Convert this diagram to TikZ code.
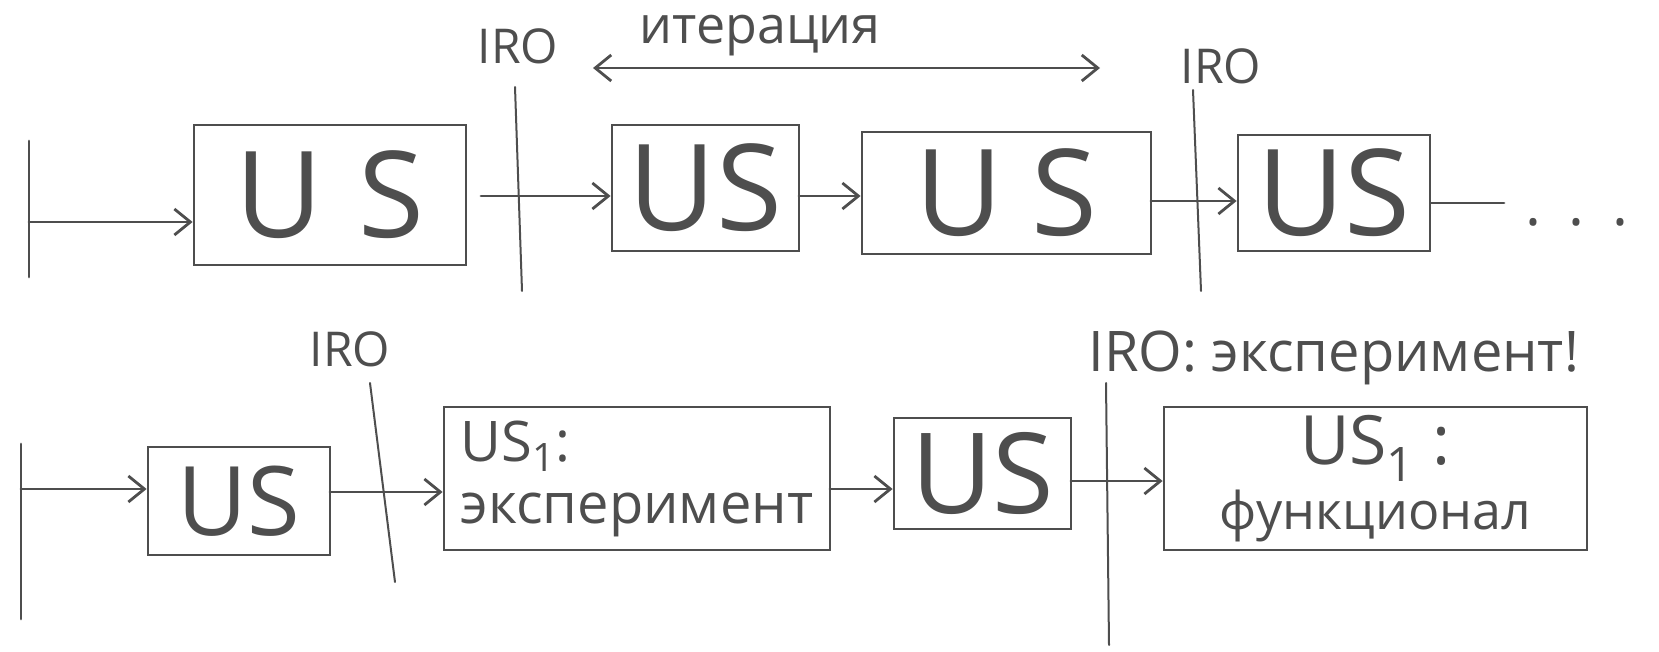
\documentclass[tikz,border=0pt]{standalone}
\usepackage{fontspec}
\setmainfont{Open Sans}
\usetikzlibrary{arrows.meta}
\definecolor{pencil}{RGB}{78,78,78}
\begin{document}
\begin{tikzpicture}[x=0.5pt,y=-0.5pt,
  pen/.style={draw=pencil, line width=1.4pt, line cap=round},
  box/.style={pen, rectangle, inner sep=0pt, text=pencil},
  arr/.style={pen, -{Straight Barb[length=8pt,width=13pt,line width=1.4pt]}},
  arrboth/.style={pen, {Straight Barb[length=8pt,width=13pt,line width=1.4pt]}-{Straight Barb[length=8pt,width=13pt,line width=1.4pt]}},
  lbl/.style={text=pencil, inner sep=0pt},
  big/.style={font=\fontsize{60}{60}\selectfont},
  mid/.style={font=\fontsize{48}{48}\selectfont}]
\useasboundingbox (0,0) rectangle (1659,652);
% ---------- top row ----------
\coordinate (t0a) at (29,141);
\coordinate (t0b) at (29,277);
\draw[pen] (t0a) -- (t0b);
\node[box, big, minimum width=136pt, minimum height=70pt] (b1) at (330,195) {U\hspace{18pt}S};
\node[box, big, minimum width=93.5pt, minimum height=63pt] (b2) at (705.5,188) {US};
\node[box, big, minimum width=144.5pt, minimum height=61pt] (b3) at (1006.5,193) {U\hspace{14pt}S};
\node[box, big, minimum width=96pt, minimum height=58pt] (b4) at (1334,193) {US};
\coordinate (s1) at (29,222);
\draw[arr] (s1) -- (s1 -| b1.west);
\coordinate (a12) at (481,196);
\draw[arr] (a12) -- (a12 -| b2.west);
\coordinate (a23) at (799,196);
\draw[arr] (a23) -- (a23 -| b3.west);
\coordinate (a34) at (1151,201);
\draw[arr] (a34) -- (a34 -| b4.west);
\coordinate (tend) at (1504,203);
\draw[pen] (tend -| b4.east) -- (tend);
\node[lbl, font=\fontsize{30}{30}\selectfont] (dots) at (1577,222) {.\hspace{14pt}.\hspace{14pt}.};
% IRO lines top
\coordinate (i1a) at (515,87);
\coordinate (i1b) at (522,291);
\draw[pen, line width=1pt] (i1a) -- (i1b);
\node[lbl, font=\fontsize{24}{24}\selectfont] (iro1) at (518,46) {IRO};
\coordinate (i2a) at (1193,90);
\coordinate (i2b) at (1201,291);
\draw[pen, line width=1pt] (i2a) -- (i2b);
\node[lbl, font=\fontsize{24}{24}\selectfont] (iro2) at (1221,66) {IRO};
\node[lbl, font=\fontsize{26}{26}\selectfont] (iter) at (760,36) {итерация};
\coordinate (it1) at (593,68);
\coordinate (it2) at (1100,68);
\draw[arrboth, line width=1.2pt] (it1) -- (it2);
% ---------- bottom row ----------
\coordinate (u0a) at (21,444);
\coordinate (u0b) at (21,619);
\draw[pen] (u0a) -- (u0b);
\node[box, mid, minimum width=91pt, minimum height=54pt] (b5) at (239,501) {US};
\node[box, minimum width=193pt, minimum height=71.5pt, align=left, font=\fontsize{28}{31}\selectfont] (b6) at (637,478.5) {US\textsubscript{1}:\\эксперимент};
\node[box, font=\fontsize{56}{56}\selectfont, minimum width=88.5pt, minimum height=55.5pt] (b7) at (982.5,473.5) {US};
\node[box, minimum width=211.5pt, minimum height=71.5pt, align=center] (b8) at (1375.5,478.5) {{\fontsize{34}{34}\selectfont US\textsubscript{1} :}\\[3pt]{\fontsize{26}{26}\selectfont функционал}};
\coordinate (s2) at (21,489);
\draw[arr] (s2) -- (s2 -| b5.west);
\coordinate (a56) at (330,492);
\draw[arr] (a56) -- (a56 -| b6.west);
\coordinate (a67) at (830,489);
\draw[arr] (a67) -- (a67 -| b7.west);
\coordinate (a78) at (1071,481);
\draw[arr] (a78) -- (a78 -| b8.west);
% IRO lines bottom
\coordinate (i3a) at (370,383);
\coordinate (i3b) at (395,582);
\draw[pen, line width=1pt] (i3a) -- (i3b);
\node[lbl, font=\fontsize{24}{24}\selectfont] (iro3) at (350,349) {IRO};
\coordinate (i4a) at (1106,383);
\coordinate (i4b) at (1109,645);
\draw[pen, line width=1pt] (i4a) -- (i4b);
\node[lbl, anchor=west, font=\fontsize{28}{28}\selectfont] (iro4) at (1088,358) {IRO: эксперимент!};
\end{tikzpicture}
\end{document}
